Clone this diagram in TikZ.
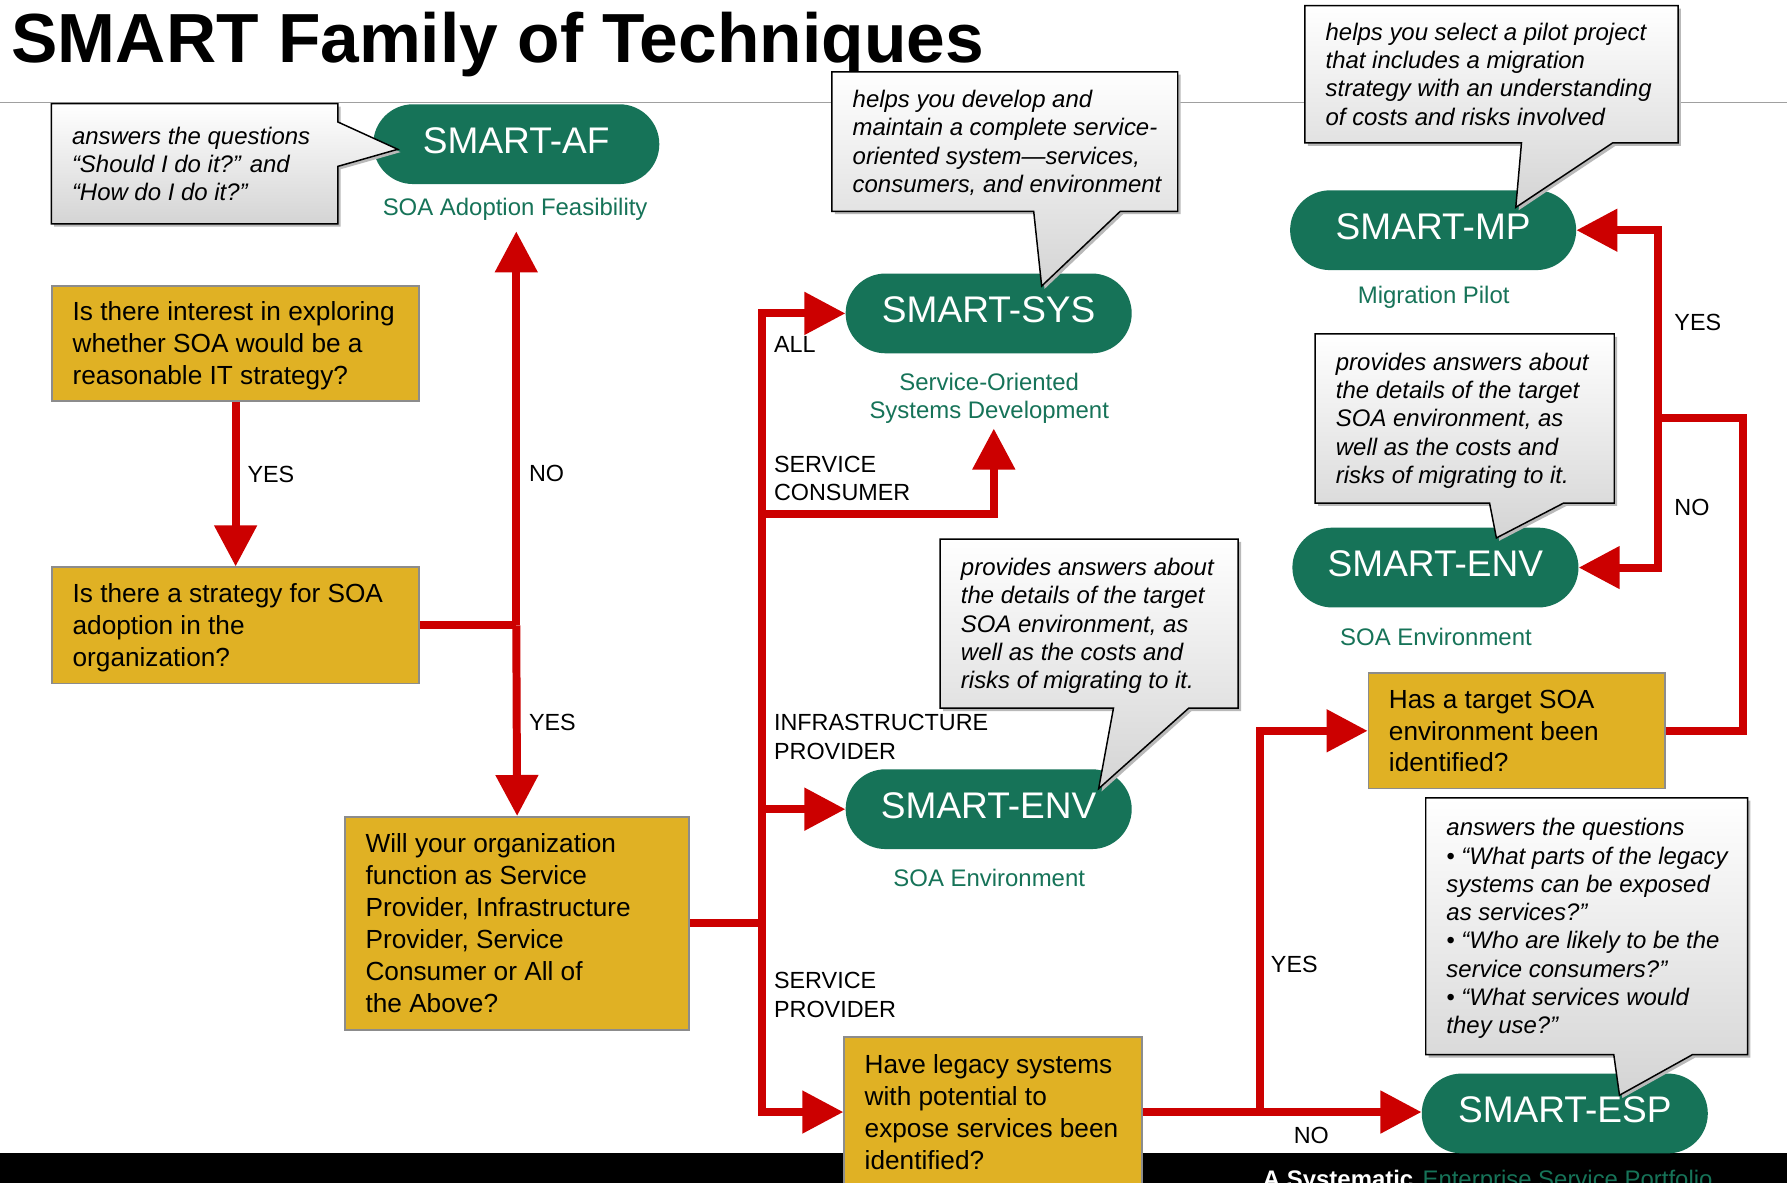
\documentclass[tikz,border=0pt]{standalone}
\usepackage{fontspec}
\setmainfont{Liberation Sans}
\usetikzlibrary{arrows.meta,calc}

\definecolor{smartgreen}{RGB}{22,115,88}
\definecolor{qyellow}{RGB}{224,177,36}
\definecolor{qborder}{RGB}{140,140,140}
\definecolor{flowred}{RGB}{204,0,0}
\definecolor{rulegray}{RGB}{160,160,160}
\definecolor{bubblegray}{RGB}{212,212,212}

\pgfdeclarelayer{back}
\pgfdeclarelayer{bubble}
\pgfsetlayers{back,bubble,main}

% left-aligned block of fixed width, lines never re-wrapped, set slightly low
\newcommand\blocktext[2]{\raisebox{-2.5pt}[\height][\depth]{\makebox[#1][l]{\begin{tabular}{@{}l@{}}#2\end{tabular}}}}
% label text nudged within its node
\newcommand\nudge[2]{\raisebox{#1}[\height][\depth]{#2}}

% speech bubble whose tail leaves the bottom edge
\newcommand\bubbledown[4]{%
  \fill[bubbleshadow] (#1.north west) -- (#1.north east) -- (#1.south east)
    -- ($(#1.south west)+(#3,0)$) -- (#4) -- ($(#1.south west)+(#2,0)$)
    -- (#1.south west) -- cycle;
  \shadedraw[bubblefill] (#1.north west) -- (#1.north east) -- (#1.south east)
    -- ($(#1.south west)+(#3,0)$) -- (#4) -- ($(#1.south west)+(#2,0)$)
    -- (#1.south west) -- cycle;
}

\tikzset{
  question/.style={draw=qborder, line width=1.5pt, fill=qyellow, inner xsep=18pt,
    inner ysep=0pt, anchor=north west, font=\fontsize{23}{28}\selectfont},
  pill/.style={fill=smartgreen, rounded corners=35pt, minimum width=251pt,
    minimum height=70pt, inner sep=0pt, text=white, font=\fontsize{32.5}{36}\selectfont},
  subtitle/.style={text=smartgreen, inner sep=0pt, align=center,
    font=\fontsize{21}{24.5}\selectfont},
  bubble/.style={inner xsep=18pt, inner ysep=0pt, anchor=north west,
    font=\itshape\fontsize{21}{24.8}\selectfont},
  bubblefill/.style={top color=white, bottom color=bubblegray, draw=black,
    line width=1.3pt, line join=miter},
  bubbleshadow/.style={fill=gray!55, transform canvas={shift={(2.5pt,-2.5pt)}}},
  flow/.style={draw=flowred, line width=7pt, line join=miter,
    -{Triangle[length=36pt,width=36pt]}},
  flowline/.style={draw=flowred, line width=7pt, line join=miter},
  answer/.style={anchor=west, inner sep=0pt, align=left,
    font=\fontsize{20.5}{25}\selectfont},
}

\begin{document}
\begin{tikzpicture}[x=1pt,y=-1pt]
\useasboundingbox (0,0) rectangle (1568,1038);

\begin{pgfonlayer}{back}
  \fill[white] (0,0) rectangle (1568,1038);
  \draw[rulegray, line width=1.5pt] (0,90) -- (1568,90);
  \node[anchor=base west, inner sep=0pt, font=\bfseries\fontsize{61}{66}\selectfont]
    (title) at (10,55) {SMART Family of Techniques};

  % footer band
  \fill[black] (0,1012) rectangle (1568,1038);
  \begin{scope}
    \clip (0,1012) rectangle (1568,1038);
    \node[anchor=base west, inner sep=0pt, text=white,
      font=\bfseries\fontsize{21}{24}\selectfont] (footA) at (1108,1042) {A Systematic};
    \node[anchor=base west, inner sep=0pt, text=smartgreen,
      font=\fontsize{21}{24}\selectfont] (footB) at (1248,1042) {Enterprise Service Portfolio};
  \end{scope}

  % decision boxes
  \node[question, minimum width=322pt, minimum height=101pt] (q1) at (45,250)
    {\blocktext{286pt}{Is there interest in exploring\\whether SOA would be a\\reasonable IT strategy?}};
  \node[question, minimum width=322pt, minimum height=102pt] (q2) at (45,497)
    {\blocktext{286pt}{Is there a strategy for SOA\\adoption in the\\organization?}};
  \node[question, minimum width=302pt, minimum height=187pt] (q3) at (302,716)
    {\blocktext{266pt}{Will your organization\\function as Service\\Provider, Infrastructure\\Provider, Service\\Consumer or All of\\the Above?}};
  \node[question, minimum width=261pt, minimum height=132pt] (q4) at (740,909)
    {\blocktext{225pt}{Have legacy systems\\with potential to\\expose services been\\identified?}};
  \node[question, minimum width=260pt, minimum height=101pt] (q5) at (1200,590)
    {\blocktext{224pt}{Has a target SOA\\environment been\\identified?}};

  % techniques
  \node[pill] (af)   at (453,126.5) {\nudge{3pt}{SMART-AF}};
  \node[pill] (sys)  at (867.5,275) {\nudge{3pt}{SMART-SYS}};
  \node[pill] (env1) at (867.5,710) {\nudge{3pt}{SMART-ENV}};
  \node[pill] (mp)   at (1257.5,202) {\nudge{3pt}{SMART-MP}};
  \node[pill] (env2) at (1259.5,498) {\nudge{3pt}{SMART-ENV}};
  \node[pill] (esp)  at (1373,977) {\nudge{3pt}{SMART-ESP}};

  \node[subtitle] (afsub)   at (452,183.5) {SOA Adoption Feasibility};
  \node[subtitle] (syssub)  at (868,349.5) {Service-Oriented\\Systems Development};
  \node[subtitle] (env1sub) at (868,770) {SOA Environment};
  \node[subtitle] (mpsub)   at (1258,261) {Migration Pilot};
  \node[subtitle] (env2sub) at (1260,559) {SOA Environment};

  % flow
  \coordinate (afin) at (453,203);
  \draw[flow] (q1.south) -- (q2.north);
  \draw[flowline] (q2.east) -- (q2.east -| afin);
  \draw[flow] (q2.east -| afin) -- (afin);
  \draw[flow] (q2.east -| afin) -- (q3.north);

  \coordinate (trunk) at ($(q3.east)+(63,0)$);
  \coordinate (cbranch) at (trunk |- 0,451);
  \coordinate (sysin) at (872,376);
  \draw[flowline] (q3.east) -- (trunk);
  \draw[flow] (trunk) |- (sys.west);
  \draw[flow] (trunk) |- (env1.west);
  \draw[flow] (trunk) |- (q4.west);
  \draw[flow] (cbranch) -| (sysin);

  \coordinate (yesfork) at ($(q4.east)+(103,0)$);
  \draw[flow] (q4.east) -- (q4.east -| esp.west);
  \draw[flow] (yesfork) |- (q5.west);

  \coordinate (loopr) at (1529,367);
  \coordinate (loopl) at (1455,367);
  \draw[flowline] (q5.east) -| (loopr) -- (loopl);
  \draw[flow] (loopl) |- (mp.east);
  \draw[flow] (loopl) |- (env2.east);

  % answers
  \node[answer] (a1) at (217,416) {YES};
  \node[answer] (a2) at (464,415) {NO};
  \node[answer] (a3) at (464,634) {YES};
  \node[answer] (a4) at (679,302) {ALL};
  \node[answer] (a5) at (679,420) {SERVICE\\CONSUMER};
  \node[answer] (a6) at (679,646.5) {INFRASTRUCTURE\\PROVIDER};
  \node[answer] (a7) at (679,873) {SERVICE\\PROVIDER};
  \node[answer] (a8) at (1115,846) {YES};
  \node[answer] (a9) at (1135,996) {NO};
  \node[answer] (a10) at (1469,283) {YES};
  \node[answer] (a11) at (1469,445) {NO};
\end{pgfonlayer}

% descriptions
\node[bubble, minimum width=251pt, minimum height=105pt] (c1) at (45,91)
  {\blocktext{215pt}{answers the questions\\“Should I do it?” and\\“How do I do it?”}};
\node[bubble, minimum width=303pt, minimum height=122pt] (c2) at (730,63)
  {\blocktext{267pt}{helps you develop and\\maintain a complete service-\\oriented system—services,\\consumers, and environment}};
\node[bubble, minimum width=327pt, minimum height=120pt] (c3) at (1145,5)
  {\blocktext{291pt}{helps you select a pilot project\\that includes a migration\\strategy with an understanding\\of costs and risks involved}};
\node[bubble, minimum width=262pt, minimum height=148pt] (c4) at (1154,293)
  {\blocktext{226pt}{provides answers about\\the details of the target\\SOA environment, as\\well as the costs and\\risks of migrating to it.}};
\node[bubble, minimum width=261pt, minimum height=148pt] (c5) at (825,473)
  {\blocktext{225pt}{provides answers about\\the details of the target\\SOA environment, as\\well as the costs and\\risks of migrating to it.}};
\node[bubble, minimum width=282pt, minimum height=225pt] (c6) at (1251,700)
  {\blocktext{246pt}{answers the questions\\• “What parts of the legacy\\systems can be exposed\\as services?”\\• “Who are likely to be the\\service consumers?”\\• “What services would\\they use?”}};

\coordinate (c1tip) at (349,131);
\coordinate (c2tip) at (914,251);
\coordinate (c3tip) at (1330,182);
\coordinate (c4tip) at (1313,472);
\coordinate (c5tip) at (964,692);
\coordinate (c6tip) at (1421,961);

\begin{pgfonlayer}{bubble}
  \fill[bubbleshadow] (c1.north west) -- (c1.north east) -- ($(c1.north east)+(0,16)$)
    -- (c1tip) -- ($(c1.north east)+(0,55)$) -- (c1.south east) -- (c1.south west) -- cycle;
  \shadedraw[bubblefill] (c1.north west) -- (c1.north east) -- ($(c1.north east)+(0,16)$)
    -- (c1tip) -- ($(c1.north east)+(0,55)$) -- (c1.south east) -- (c1.south west) -- cycle;
  \bubbledown{c2}{177}{253}{c2tip}
  \bubbledown{c3}{190}{270}{c3tip}
  \bubbledown{c4}{153}{218}{c4tip}
  \bubbledown{c5}{152}{218}{c5tip}
  \bubbledown{c6}{165}{234}{c6tip}
\end{pgfonlayer}
\end{tikzpicture}
\end{document}
